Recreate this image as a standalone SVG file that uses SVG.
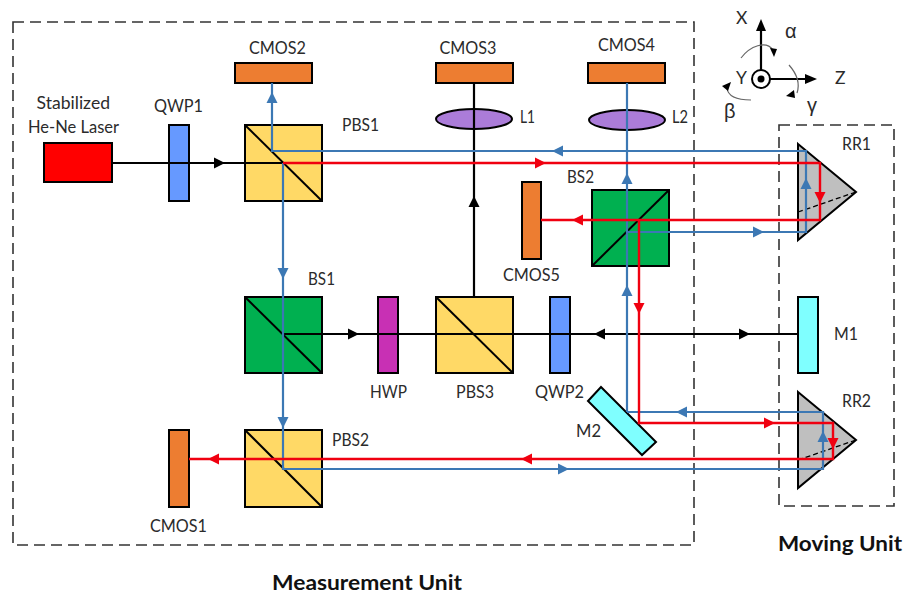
<svg xmlns="http://www.w3.org/2000/svg" width="904" height="595" viewBox="0 0 904 595">
<style>
text{font-family:Lato,"Open Sans","Liberation Sans",Arial,sans-serif;font-size:17.5px;fill:#2b2b2b}
.b{font-weight:700;font-size:21px;fill:#111}
.gr{font-family:"Liberation Sans",Arial,sans-serif;font-size:20px}
.box{fill:none;stroke:#333;stroke-width:1.6;stroke-dasharray:11 6}
.o{stroke:#000;stroke-width:2}
.pbs{fill:#ffd966}.bs{fill:#00b050}.cm{fill:#ed7d31}.qwp{fill:#6699ff}.mir{fill:#7fffff}.len{fill:#ab7cd9}.rr{fill:#bfbfbf}
.diag{stroke:#000;stroke-width:2;fill:none}
.k,.u,.r{fill:none}
.k{stroke:#000;stroke-width:2.2}.u{stroke:#3c78b4;stroke-width:2.2}.r{stroke:#f00010;stroke-width:2.4}
.fk{fill:#000}.fu{fill:#3c78b4}.fr{fill:#f00010}
.rot{fill:none;stroke:#666;stroke-width:1.2}
</style>
<defs><polygon id="a" points="6,0 -5,-5.5 -5,5.5"/></defs>
<rect width="904" height="595" fill="#fff"/>
<g id="unit-boxes">
<rect class="box" x="13" y="22" width="681" height="523"/>
<rect class="box" x="779" y="125" width="115" height="381"/>
</g>
<g id="laser"><rect class="o" x="44" y="143" width="68" height="39" fill="#f00"/><text x="36.5" y="109" textLength="73.5" lengthAdjust="spacingAndGlyphs">Stabilized</text><text x="28" y="133" textLength="91" lengthAdjust="spacingAndGlyphs">He-Ne Laser</text></g>
<g id="qwp1"><rect class="o qwp" x="169" y="125" width="20" height="76"/><text x="154" y="112" textLength="49" lengthAdjust="spacingAndGlyphs">QWP1</text></g>
<g id="pbs1"><rect class="o pbs" x="245" y="125" width="77" height="76"/><path class="diag" d="M245 125L322 201"/><text x="342" y="131" textLength="37" lengthAdjust="spacingAndGlyphs">PBS1</text></g>
<g id="cmos2"><rect class="o cm" x="235" y="63" width="77" height="20"/><text x="249" y="54" textLength="57" lengthAdjust="spacingAndGlyphs">CMOS2</text></g>
<g id="cmos3"><rect class="o cm" x="436" y="63" width="77" height="20"/><text x="439.5" y="54" textLength="57" lengthAdjust="spacingAndGlyphs">CMOS3</text></g>
<g id="cmos4"><rect class="o cm" x="588" y="63" width="77" height="20"/><text x="598" y="51" textLength="57" lengthAdjust="spacingAndGlyphs">CMOS4</text></g>
<g id="l1"><ellipse class="o len" cx="474" cy="119" rx="38" ry="10"/><text x="520" y="123" textLength="15" lengthAdjust="spacingAndGlyphs">L1</text></g>
<g id="l2"><ellipse class="o len" cx="627" cy="120" rx="38" ry="10"/><text x="672" y="123" textLength="16" lengthAdjust="spacingAndGlyphs">L2</text></g>
<g id="cmos5"><rect class="o cm" x="522" y="182" width="19" height="77"/><text x="503" y="281" textLength="57" lengthAdjust="spacingAndGlyphs">CMOS5</text></g>
<g id="bs2"><rect class="o bs" x="592" y="190" width="77" height="76"/><path class="diag" d="M592 266L669 190"/><text x="567" y="183" textLength="27" lengthAdjust="spacingAndGlyphs">BS2</text></g>
<g id="bs1"><rect class="o bs" x="245" y="297" width="77" height="76"/><path class="diag" d="M245 297L322 373"/><text x="308" y="285" textLength="27" lengthAdjust="spacingAndGlyphs">BS1</text></g>
<g id="hwp"><rect class="o" x="378" y="297" width="20" height="76" fill="#c830b4"/><text x="370" y="398" textLength="37" lengthAdjust="spacingAndGlyphs">HWP</text></g>
<g id="pbs3"><rect class="o pbs" x="436" y="297" width="77" height="76"/><path class="diag" d="M436 297L513 373"/><text x="456" y="398" textLength="38" lengthAdjust="spacingAndGlyphs">PBS3</text></g>
<g id="qwp2"><rect class="o qwp" x="550" y="297" width="20" height="76"/><text x="535" y="398" textLength="49" lengthAdjust="spacingAndGlyphs">QWP2</text></g>
<g id="m2"><polygon class="o mir" points="601,387 656,442 642,455 588,401"/><text x="576" y="437" textLength="25" lengthAdjust="spacingAndGlyphs">M2</text></g>
<g id="m1"><rect class="o mir" x="798" y="297" width="20" height="76"/><text x="834" y="340" textLength="24" lengthAdjust="spacingAndGlyphs">M1</text></g>
<g id="pbs2"><rect class="o pbs" x="245" y="430" width="77" height="77"/><path class="diag" d="M245 430L322 507"/><text x="332" y="446" textLength="37" lengthAdjust="spacingAndGlyphs">PBS2</text></g>
<g id="cmos1"><rect class="o cm" x="169" y="430" width="20" height="77"/><text x="150" y="532" textLength="57" lengthAdjust="spacingAndGlyphs">CMOS1</text></g>
<g id="rr1"><polygon class="o rr" points="798,144 856,192 798,240"/><path d="M798 212L856 192" fill="none" stroke="#000" stroke-width="1.3" stroke-dasharray="5 3"/><text x="842" y="150" textLength="29" lengthAdjust="spacingAndGlyphs">RR1</text></g>
<g id="rr2"><polygon class="o rr" points="798,392 856,440 798,488"/><path d="M798 460L856 440" fill="none" stroke="#000" stroke-width="1.3" stroke-dasharray="5 3"/><text x="842" y="407" textLength="29" lengthAdjust="spacingAndGlyphs">RR2</text></g>
<g id="connectors">
<path class="k" d="M112 163H283M283 334H798M474 297V83"/>
<path class="u" d="M272 83V151H806V232H627M627 412V83M283 163V469H823V412H627"/>
<path class="r" d="M283 163H820V220H541M639 220V423H833V459H189"/>
<g class="fk">
<use href="#a" transform="translate(219 163)"/>
<use href="#a" transform="translate(353 334)"/>
<use href="#a" transform="translate(744 334)"/>
<use href="#a" transform="translate(600 334) rotate(180)"/>
<use href="#a" transform="translate(474 202) rotate(-90)"/>
</g>
<g class="fu">
<use href="#a" transform="translate(272 98) rotate(-90)"/>
<use href="#a" transform="translate(283 273) rotate(90)"/>
<use href="#a" transform="translate(283 422) rotate(90)"/>
<use href="#a" transform="translate(558 151) rotate(180)"/>
<use href="#a" transform="translate(758 232)"/>
<use href="#a" transform="translate(806 184) rotate(-90)"/>
<use href="#a" transform="translate(627 179) rotate(-90)"/>
<use href="#a" transform="translate(627 291) rotate(-90)"/>
<use href="#a" transform="translate(682 412) rotate(180)"/>
<use href="#a" transform="translate(823 437) rotate(-90)"/>
<use href="#a" transform="translate(563 469)"/>
</g>
<g class="fr">
<use href="#a" transform="translate(540 163)"/>
<use href="#a" transform="translate(820 197) rotate(90)"/>
<use href="#a" transform="translate(578 220) rotate(180)"/>
<use href="#a" transform="translate(639 308) rotate(90)"/>
<use href="#a" transform="translate(769 423)"/>
<use href="#a" transform="translate(833 443) rotate(90)"/>
<use href="#a" transform="translate(527 459) rotate(180)"/>
<use href="#a" transform="translate(214 459) rotate(180)"/>
</g>
</g>
<g id="axes">
<path d="M761 70V26M770 79H810" fill="none" stroke="#000" stroke-width="2.2"/>
<polygon points="761,19 756,31 766,31"/><polygon points="817,79 805,74 805,84"/>
<circle cx="761" cy="79" r="9" fill="#fff" stroke="#000" stroke-width="2"/><circle cx="761" cy="79" r="3.5"/>
<path class="rot" d="M741 58C750 46 766 40 773 50"/><polygon points="770,48 777,49 774,57"/>
<path class="rot" d="M789 65C797 74 800 84 797 93"/><polygon points="786,96 795,98 794,90"/>
<path class="rot" d="M751 100C738 100 728 97 727 88"/><polygon points="722,86 731,82 728,91"/>
<text x="736" y="24">X</text><text x="785" y="38" class="gr">α</text><text x="736" y="84">Y</text><text x="835" y="84">Z</text><text x="724" y="118" class="gr">β</text><text x="807" y="112" class="gr">γ</text>
</g>
<g id="titles"><text class="b" x="272" y="590" textLength="190" lengthAdjust="spacingAndGlyphs">Measurement Unit</text><text class="b" x="778" y="551" textLength="124" lengthAdjust="spacingAndGlyphs">Moving Unit</text></g>
</svg>
